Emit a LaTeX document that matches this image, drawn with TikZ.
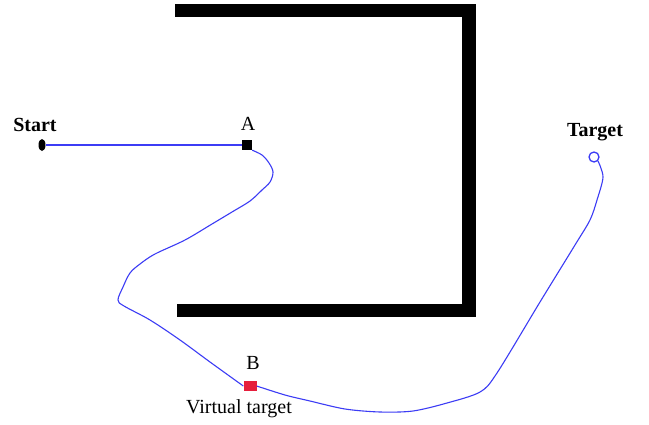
\documentclass[tikz,border=0pt]{standalone}
\usepackage{fontspec}
\setmainfont{Liberation Serif}
\usetikzlibrary{shapes.geometric}
\definecolor{pathblue}{RGB}{60,60,245}
\tikzset{
  wall/.style={fill=black, draw=none},
  lbl/.style={font=\fontsize{20}{22}\selectfont, inner sep=0pt},
  boldlbl/.style={lbl, font=\fontsize{20}{22}\selectfont\bfseries},
  route/.style={draw=pathblue, line width=1.1pt, line join=round},
}
\begin{document}
\begin{tikzpicture}[x=1pt, y=-1pt]
\useasboundingbox (0,0) rectangle (649,424);
\fill[white] (0,0) rectangle (649,424);

% U-shaped wall, open to the left
\fill[wall] (175,4) rectangle (476,17);
\fill[wall] (462,4) rectangle (476,317);
\fill[wall] (177,304) rectangle (476,317);

% markers
\node[ellipse, fill=black, minimum width=7pt, minimum height=12pt, inner sep=0pt] (start) at (42,145) {};
\node[rectangle, fill=black, minimum size=10pt, inner sep=0pt] (A) at (247,145) {};
\node[rectangle, fill={rgb,255:red,230;green,30;blue,60}, minimum width=13pt, minimum height=10pt, inner sep=0pt] (B) at (250,386) {};
\node[circle, draw=pathblue, line width=1.3pt, minimum size=10pt, inner sep=0pt] (target) at (594,157) {};

% labels
\node[boldlbl] (startlbl) at (35,125) {Start};
\node[lbl] (Albl) at (248,124) {A};
\node[lbl] (Blbl) at (253,363) {B};
\node[lbl] (vlbl) at (239,409) {Virtual target};
\node[boldlbl] (tlbl) at (595,132) {Target};

% straight leg from start to A
\draw[route] (start.east) -- (A.west);

% detour from A to the virtual target B
\draw[route] plot[smooth, tension=0.55] coordinates {
  (A.south east) (262,155) (269,163) (273,172) (270,182) (262,190)
  (250,201) (232,212) (212,224) (185,240) (155,254) (140,264)
  (130,273) (123,287) (118,300) (124,306) (150,320) (180,340)
  (210,362) (B.west)};

% from B on to the target
\draw[route] plot[smooth, tension=0.5] coordinates {
  (B.east) (285,395) (310,401) (345,409) (380,412) (413,411)
  (447,403) (480,392) (497,373) (540,302) (575,245) (590,220)
  (597,200) (603,177) (target.south east)};
\end{tikzpicture}
\end{document}
